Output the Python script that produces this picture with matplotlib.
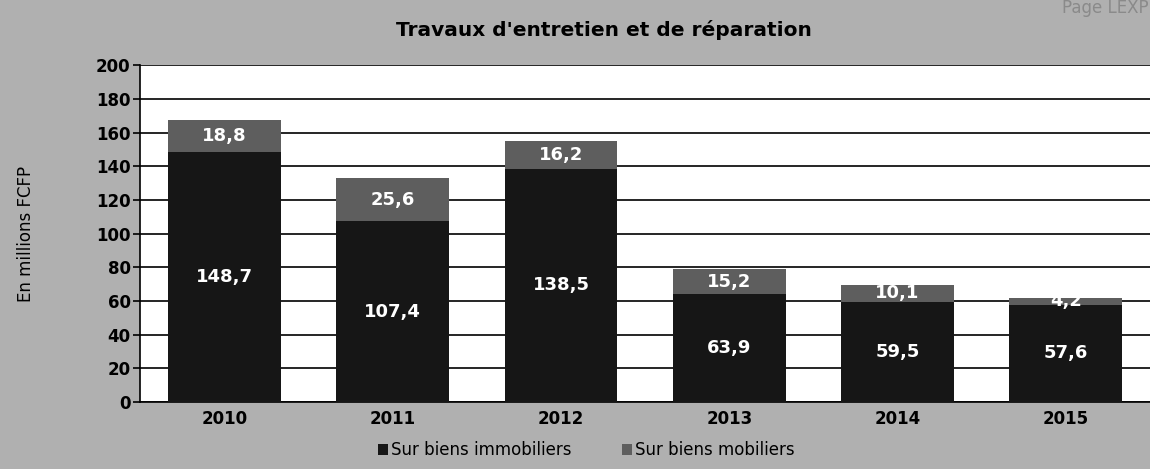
import matplotlib
matplotlib.use("Agg")
import matplotlib.pyplot as plt
import numpy as np

years = ["2010", "2011", "2012", "2013", "2014", "2015"]
immobiliers = [148.7, 107.4, 138.5, 63.9, 59.5, 57.6]
mobiliers = [18.8, 25.6, 16.2, 15.2, 10.1, 4.2]
imm_labels = ["148,7", "107,4", "138,5", "63,9", "59,5", "57,6"]
mob_labels = ["18,8", "25,6", "16,2", "15,2", "10,1", "4,2"]
yticks = [0, 20, 40, 60, 80, 100, 120, 140, 160, 180, 200]

fig = plt.figure(figsize=(11.5, 4.69), dpi=100)
fig.patch.set_facecolor("#b0b0b0")
ax = fig.add_axes([0.122, 0.143, 0.878, 0.718])
ax.set_facecolor("white")

x = np.arange(len(years))
w = 0.67
dark = "#161616"
gray = "#5e5e5e"
b1 = ax.bar(x, immobiliers, w, color=dark, zorder=3, label="Sur biens immobiliers")
b2 = ax.bar(x, mobiliers, w, bottom=immobiliers, color=gray, zorder=3, label="Sur biens mobiliers")

for i in range(len(years)):
    ax.text(x[i], immobiliers[i] / 2, imm_labels[i], ha="center", va="center",
            color="white", fontsize=13, fontweight="bold", zorder=4)
    ax.text(x[i], immobiliers[i] + mobiliers[i] / 2, mob_labels[i], ha="center", va="center",
            color="white", fontsize=13, fontweight="bold", zorder=4)

ax.set_xlim(-0.5, len(years) - 0.5)
ax.set_ylim(0, 200)
ax.set_yticks(yticks)
ax.set_yticklabels([str(t) for t in yticks], fontsize=12, fontweight="bold")
ax.set_xticks(x)
ax.set_xticklabels(years, fontsize=12, fontweight="bold")
ax.tick_params(axis="x", length=0, pad=6)
ax.tick_params(axis="y", length=5, width=1.2, direction="out", pad=2)
ax.grid(axis="y", color="black", linewidth=1.2, zorder=1)
for s in ["top", "right"]:
    ax.spines[s].set_visible(False)
ax.spines["left"].set_linewidth(1.2)
ax.spines["bottom"].set_linewidth(1.2)

ax.set_ylabel("En millions FCFP", fontsize=12)
ax.yaxis.set_label_coords(-0.104, 0.5)

fig.text(0.525, 0.935, "Travaux d'entretien et de réparation", ha="center", va="center",
         fontsize=14.5, fontweight="bold")
fig.text(0.999, 0.983, "Page LEXP", ha="right", va="center", fontsize=12, color="#8a8a8a")

leg = fig.legend(handles=[b1, b2], loc="center", bbox_to_anchor=(0.51, 0.04), ncol=2,
                 frameon=False, fontsize=12, handlelength=0.6, handleheight=0.6,
                 handletextpad=0.2, columnspacing=3)

fig.savefig("out.png", dpi=100, facecolor=fig.get_facecolor())
